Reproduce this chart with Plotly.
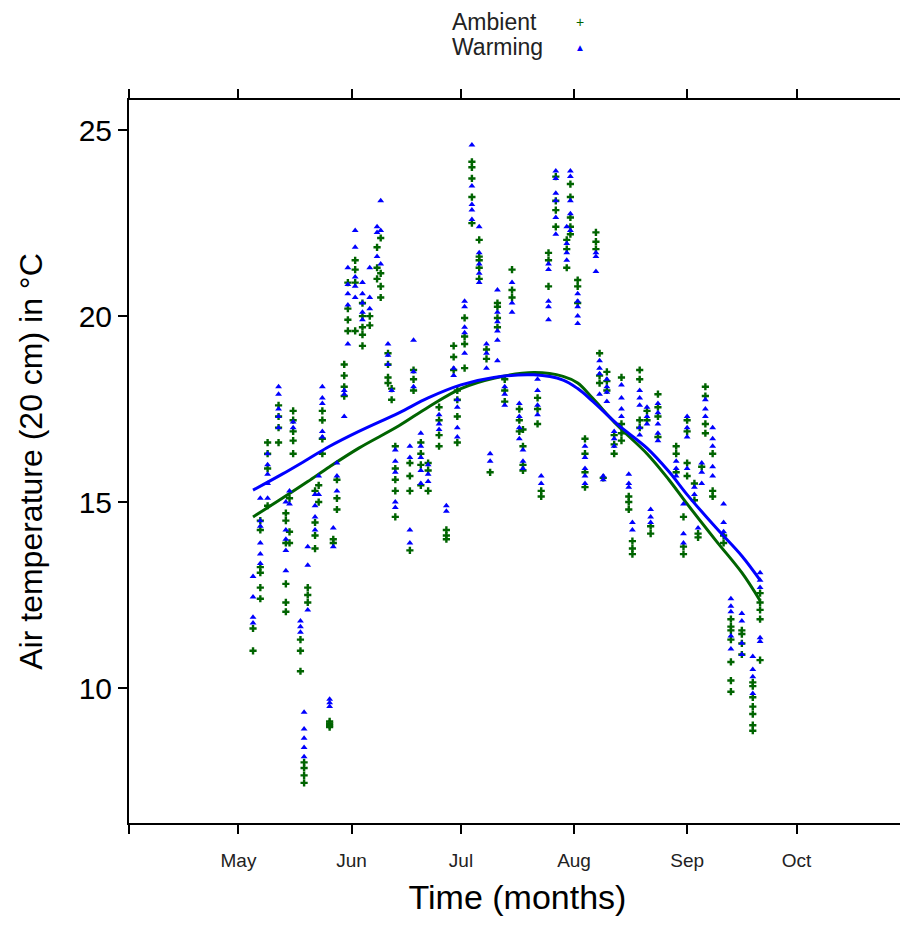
import plotly.graph_objects as go

# days with readings (one column of points per day)
days = [
    "2013-05-05", "2013-05-07", "2013-05-09", "2013-05-12", "2013-05-14", "2013-05-15",
    "2013-05-16", "2013-05-18", "2013-05-19", "2013-05-20", "2013-05-22", "2013-05-23",
    "2013-05-24", "2013-05-26", "2013-05-27", "2013-05-28", "2013-05-30", "2013-05-31",
    "2013-06-02", "2013-06-04", "2013-06-06", "2013-06-08", "2013-06-09", "2013-06-11",
    "2013-06-12", "2013-06-13", "2013-06-17", "2013-06-18", "2013-06-20", "2013-06-22",
    "2013-06-25", "2013-06-27", "2013-06-29", "2013-06-30", "2013-07-02", "2013-07-04",
    "2013-07-06", "2013-07-08", "2013-07-09", "2013-07-11", "2013-07-13", "2013-07-15",
    "2013-07-17", "2013-07-18", "2013-07-22", "2013-07-23", "2013-07-25", "2013-07-27",
    "2013-07-30", "2013-07-31", "2013-08-02", "2013-08-04", "2013-08-07", "2013-08-08",
    "2013-08-09", "2013-08-10", "2013-08-12", "2013-08-14", "2013-08-16", "2013-08-17",
    "2013-08-19", "2013-08-21", "2013-08-22", "2013-08-24", "2013-08-29", "2013-08-31",
    "2013-09-01", "2013-09-03", "2013-09-04", "2013-09-05", "2013-09-06", "2013-09-08",
    "2013-09-11", "2013-09-13", "2013-09-16", "2013-09-19", "2013-09-21",
]

ambient = [
    [11.6, 11.0], [14.5, 14.25, 13.25, 13.1, 12.7, 12.4], [16.6, 16.3, 15.9, 14.9],
    [17.6, 17.3, 17.0, 16.6], [14.7, 14.5, 13.9, 12.8, 12.3, 12.05], [15.1, 14.2, 13.9],
    [17.45, 17.2, 16.9, 16.65, 16.3], [11.3, 11.0, 10.45], [8.0, 7.85, 7.65, 7.45],
    [12.7, 12.5, 12.3], [15.3, 14.45, 14.1, 13.75], [15.45, 15.0],
    [17.45, 17.2, 16.7, 16.3], [9.1, 9.05, 9.0, 8.95], [14.0, 13.9],
    [15.6, 15.1, 14.8], [18.7, 18.4, 18.1, 17.85], [20.9, 20.2, 19.9, 19.6],
    [21.5, 21.25, 20.9, 19.6], [20.35, 20.0, 19.7, 19.5, 19.2], [20.0, 19.75],
    [21.85, 21.3, 21.0], [22.1, 21.15, 20.8, 20.5], [19.0, 18.7, 18.35, 18.2],
    [18.05, 17.75], [16.5, 15.9, 15.6, 15.3, 14.6], [16.05, 15.7, 15.3, 13.7],
    [18.55, 18.3, 18.0], [16.6, 16.3, 16.0, 15.45], [16.05, 15.85, 15.3],
    [17.55, 17.2, 16.8, 16.5], [14.25, 14.1, 14.0], [19.2, 18.9, 18.55],
    [18.0, 17.75, 17.3, 16.6], [19.95, 19.45, 19.25, 18.6], [24.15, 24.0, 23.7, 23.2, 22.5],
    [22.05, 21.6, 21.5, 21.3, 21.0], [19.1, 18.85], [15.8],
    [20.35, 20.25, 19.95, 19.7], [18.3, 18.0, 17.7], [21.25, 20.7, 20.5],
    [17.5, 17.2, 16.9], [16.95, 16.5, 16.0, 15.85], [17.8, 17.5, 17.1],
    [15.3, 15.15], [21.7, 21.5, 20.8], [23.75, 23.1, 22.85, 22.4],
    [22.05, 21.8, 21.3], [23.55, 23.2, 22.65, 22.4, 22.2], [20.97, 20.8, 20.35],
    [16.7, 16.3, 15.8, 15.4], [22.25, 22.0, 21.8], [19.0, 18.4, 18.2],
    [15.65], [18.5, 18.25, 18.0], [16.8, 16.55, 16.3],
    [18.35, 17.1, 16.85, 16.65], [15.15, 15.0, 14.8], [13.95, 13.75, 13.6],
    [18.55, 18.3, 17.2, 17.0], [17.45, 17.2], [14.35, 14.15],
    [17.9, 17.55, 17.3, 16.75], [16.5, 16.3, 15.8], [14.6, 13.8, 13.6],
    [17.2, 16.9, 16.05, 15.7], [15.5, 15.05], [14.15, 14.05],
    [15.95], [18.1, 17.85, 17.1, 16.85], [16.3, 15.3, 15.15],
    [14.1, 13.9], [11.85, 11.65, 11.55, 11.3, 10.7, 10.2, 9.9], [11.55, 11.45, 11.2, 10.9],
    [10.15, 10.05, 9.75, 9.5, 9.3, 9.0, 8.85], [12.55, 12.3, 12.1, 11.85, 10.75],
]

warming = [
    [13.0, 12.45, 11.9, 11.75], [15.1, 14.5, 14.35, 13.9, 13.6, 13.35], [16.3, 16.0, 15.75, 15.5, 15.1],
    [18.1, 17.9, 17.5, 17.3, 17.0], [15.0, 14.25, 14.0, 13.7, 13.15], [15.3, 14.95],
    [17.15, 17.0], [11.8, 11.65, 11.5], [9.35, 8.9, 8.65, 8.4, 8.15],
    [13.8, 13.3, 12.1], [15.2, 14.9, 14.6, 14.25], [15.7, 15.2],
    [18.1, 17.8, 17.65, 16.9, 16.75], [9.7, 9.6, 9.5], [14.3, 13.8],
    [16.05, 15.7, 15.3], [18.0, 17.9, 17.3], [21.3, 20.85, 20.6, 20.3, 19.25],
    [22.3, 21.85, 21.05, 20.8, 20.5], [20.9, 20.6, 20.35, 20.1, 19.9], [21.3, 20.5, 20.2],
    [22.4, 22.25, 21.6], [23.1, 22.3, 21.4], [19.25, 18.95, 18.7],
    [18.0], [16.4, 16.1, 15.8, 15.0, 14.85], [16.5, 16.2, 14.25, 13.9],
    [19.35, 18.5, 18.1], [16.85, 16.5, 16.2, 15.85, 15.5], [16.0, 15.75, 15.55],
    [17.35, 17.1, 16.95], [14.9, 14.75], [18.6, 18.4],
    [17.75, 17.55, 17.0, 16.75], [20.4, 20.25, 19.7, 19.55, 19.0], [24.6, 23.5, 23.0, 22.85, 22.6],
    [22.4, 21.7, 21.4, 21.15, 20.9], [19.25, 19.0, 18.6], [16.3, 16.1],
    [20.7, 20.1, 19.85, 19.6, 19.35, 18.8], [18.1, 17.9, 17.6], [20.9, 20.35, 20.1],
    [17.65, 17.3, 17.0, 16.7], [16.4, 16.1, 15.9], [18.3, 18.0, 17.6, 17.35],
    [15.7, 15.5], [21.4, 21.25, 20.4, 20.25, 19.9], [23.9, 23.7, 23.3, 23.1, 22.65, 22.2],
    [22.4, 21.95, 21.7, 21.5], [23.9, 23.75, 23.1, 22.75, 22.3], [20.6, 20.4, 20.25, 20.0, 19.8],
    [16.5, 16.2, 15.9, 15.7, 15.5], [21.7, 21.6, 21.2], [18.8, 18.6, 18.45, 17.9],
    [15.7, 15.6], [18.3, 18.1, 17.95, 17.7], [16.9, 16.7, 16.5],
    [18.15, 17.8, 17.5, 17.3], [15.75, 15.5, 15.4], [14.45, 14.25],
    [18.0, 17.8, 17.6, 17.0, 16.8], [17.55, 17.3, 17.1], [14.8, 14.6, 14.45],
    [17.65, 17.4, 17.1, 16.85, 16.65], [16.1, 15.9, 15.7], [14.95, 14.15, 13.9],
    [17.3, 17.0, 16.75, 15.9], [15.4, 15.2], [14.3],
    [16.05, 15.8, 15.5], [17.75, 17.5, 17.3], [17.0, 16.7, 16.5, 15.95, 15.7],
    [14.95, 14.45, 14.2], [12.4, 12.2, 12.05, 11.4, 11.05], [12.0, 11.8, 11.2, 10.9],
    [10.85, 10.5, 10.3, 9.85], [13.1, 12.9, 12.7, 11.35, 11.25],
]

# smoothed (loess) curves
smooth_days = [
    "2013-05-05", "2013-05-13", "2013-05-20", "2013-05-26", "2013-06-03", "2013-06-14",
    "2013-06-22", "2013-07-01", "2013-07-10", "2013-07-21", "2013-07-29", "2013-08-02",
    "2013-08-06", "2013-08-13", "2013-08-21", "2013-08-27", "2013-09-01", "2013-09-09",
    "2013-09-16", "2013-09-21",
]
smooth_ambient = [14.6, 15.1, 15.55, 15.95, 16.45, 17.05, 17.55, 18.05, 18.33, 18.48, 18.38, 18.2,
                  17.8, 17.05, 16.3, 15.6, 14.95, 13.95, 13.1, 12.35]
smooth_warming = [15.32, 15.75, 16.15, 16.5, 16.9, 17.4, 17.8, 18.15, 18.35, 18.42, 18.28, 18.05,
                  17.72, 17.08, 16.45, 15.82, 15.2, 14.3, 13.55, 12.9]

month_ticks = ["2013-04-01", "2013-05-01", "2013-06-01", "2013-07-01",
               "2013-08-01", "2013-09-01", "2013-10-01"]
month_labels = ["", "May", "Jun", "Jul", "Aug", "Sep", "Oct"]
temp_ticks = [10, 15, 20, 25]

GREEN = "#006400"
BLUE = "#0000FF"
FONT = "Arial, Liberation Sans, sans-serif"


def flatten(values):
    xs, ys = [], []
    for d, vals in zip(days, values):
        for v in vals:
            xs.append(d)
            ys.append(v)
    return xs, ys


amb_x, amb_y = flatten(ambient)
warm_x, warm_y = flatten(warming)

fig = go.Figure()
fig.add_trace(go.Scatter(x=amb_x, y=amb_y, mode="markers", name="Ambient",
                         marker=dict(symbol="cross", size=6, color=GREEN, line=dict(width=0))))
fig.add_trace(go.Scatter(x=smooth_days, y=smooth_ambient, mode="lines", line_shape="spline",
                         line=dict(color=GREEN, width=3), showlegend=False))
fig.add_trace(go.Scatter(x=warm_x, y=warm_y, mode="markers", name="Warming",
                         marker=dict(symbol="triangle-up", size=6, color=BLUE, line=dict(width=0))))
fig.add_trace(go.Scatter(x=smooth_days, y=smooth_warming, mode="lines", line_shape="spline",
                         line=dict(color=BLUE, width=3), showlegend=False))

axis_common = dict(showline=True, linewidth=2, linecolor="black", mirror="ticks",
                   ticks="outside", ticklen=9, tickwidth=2, tickcolor="black",
                   showgrid=False, zeroline=False, automargin=False)

fig.update_xaxes(type="date", range=["2013-04-01", "2013-10-31"],
                 tickvals=month_ticks, ticktext=month_labels,
                 tickfont=dict(size=19, color="#222"), ticklabelstandoff=10,
                 title=dict(text="Time (months)", font=dict(size=34, color="black"), standoff=15),
                 **axis_common)
fig.update_yaxes(range=[6.37, 25.81], tickvals=temp_ticks,
                 tickfont=dict(size=30, color="black"),
                 title=dict(text="Air temperature (20 cm) in °C", font=dict(size=32, color="black"),
                            standoff=26),
                 **axis_common)

# legend drawn at the top like the original (text first, then symbol)
legend_rows = [("Ambient", "+", GREEN, 1.108), ("Warming", "▲", BLUE, 1.073)]
for label, glyph, color, ypos in legend_rows:
    fig.add_annotation(x=0.413, y=ypos, xref="paper", yref="paper", text=label,
                       showarrow=False, xanchor="left", yanchor="middle",
                       font=dict(size=23, color="#222"))
    fig.add_annotation(x=0.580, y=ypos, xref="paper", yref="paper", text=glyph,
                       showarrow=False, xanchor="center", yanchor="middle",
                       font=dict(size=10 if glyph == "▲" else 14, color=color))

# body of the page adds 8px, so the figure is a little smaller than the window
fig.update_layout(width=900, height=910, showlegend=False,
                  plot_bgcolor="white", paper_bgcolor="white",
                  font=dict(family=FONT, color="black"),
                  margin=dict(l=121, r=2, t=92, b=95))

fig.write_html("out.html")
